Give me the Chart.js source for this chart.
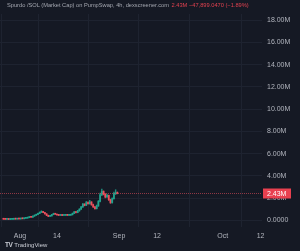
<!DOCTYPE html>
<html>
<head>
<meta charset="utf-8">
<script src="https://cdn.jsdelivr.net/npm/chart.js@4.4.0/dist/chart.umd.min.js"></script>
<style>
    html, body {
        margin: 0;
        padding: 0;
        background: #151924;
        overflow: hidden;
    }
    #wrap {
        position: relative;
        width: 300px;
        height: 251px;
    }
    #title {
        position: absolute;
        left: 7px;
        top: 2px;
        font-family: 'Liberation Sans', sans-serif;
        font-size: 5.7px;
        color: #a3a6af;
        white-space: nowrap;
    }
    #title .chg {
        color: #e0414f;
        margin-left: 1px;
    }
    #logo {
        position: absolute;
        left: 5px;
        top: 241px;
        font-family: 'Liberation Sans', sans-serif;
        font-size: 6px;
        color: #c9ccd4;
        white-space: nowrap;
    }
    #logo b {
        font-size: 6.5px;
        margin-right: 2px;
        letter-spacing: -0.5px;
    }
</style>
</head>
<body>
<div id="wrap">
    <canvas id="mcapChart" width="300" height="251"></canvas>
    <div id="title">Spurdo /SOL (Market Cap) on PumpSwap, 4h, dexscreener.com <span class="chg">2.43M &minus;47,899.0470 (&minus;1.89%)</span></div>
    <div id="logo"><b>TV</b>TradingView</div>
</div>
<script>
// 12h candles, x = days since Aug 1, values in millions
const days = [-2.5, -2, -1.5, -1, -0.5, 0, 0.5, 1, 1.5, 2, 2.5, 3, 3.5, 4, 4.5, 5, 5.5, 6, 6.5, 7,
    7.5, 8, 8.5, 9, 9.5, 10, 10.5, 11, 11.5, 12, 12.5, 13, 13.5, 14, 14.5, 15, 15.5, 16, 16.5, 17,
    17.5, 18, 18.5, 19, 19.5, 20, 20.5, 21, 21.5, 22, 22.5, 23, 23.5, 24, 24.5, 25, 25.5, 26, 26.5, 27,
    27.5, 28, 28.5, 29, 29.5, 30, 30.5];
const opens = [0.11, 0.10, 0.09, 0.10, 0.08, 0.09, 0.10, 0.12, 0.11, 0.13,
    0.12, 0.15, 0.14, 0.18, 0.20, 0.25, 0.30, 0.28, 0.38, 0.45,
    0.52, 0.62, 0.72, 0.80, 0.70, 0.58, 0.45, 0.36, 0.40, 0.52,
    0.60, 0.55, 0.48, 0.45, 0.46, 0.44, 0.45, 0.47, 0.45, 0.46,
    0.50, 0.62, 0.75, 0.70, 0.85, 1.00, 1.20, 1.45, 1.35, 1.60,
    1.50, 1.65, 1.40, 1.20, 1.05, 1.30, 1.70, 2.30, 2.60, 2.35,
    2.10, 2.25, 1.85, 1.60, 1.95, 2.40, 2.48];
const highs = [0.13, 0.11, 0.11, 0.11, 0.10, 0.11, 0.13, 0.13, 0.14, 0.14,
    0.16, 0.16, 0.19, 0.22, 0.27, 0.33, 0.32, 0.40, 0.48, 0.56,
    0.66, 0.76, 0.86, 0.82, 0.72, 0.60, 0.47, 0.44, 0.55, 0.64,
    0.62, 0.56, 0.50, 0.49, 0.48, 0.48, 0.50, 0.49, 0.48, 0.53,
    0.66, 0.80, 0.78, 0.90, 1.05, 1.26, 1.52, 1.50, 1.70, 1.66,
    1.80, 1.68, 1.45, 1.25, 1.38, 1.78, 2.45, 2.80, 2.65, 2.40,
    2.35, 2.28, 1.90, 2.02, 2.55, 2.75, 2.55];
const lows = [0.09, 0.08, 0.08, 0.07, 0.07, 0.08, 0.09, 0.10, 0.10, 0.11,
    0.11, 0.13, 0.13, 0.17, 0.19, 0.23, 0.26, 0.27, 0.36, 0.43,
    0.50, 0.60, 0.70, 0.68, 0.55, 0.42, 0.33, 0.34, 0.38, 0.50,
    0.52, 0.46, 0.43, 0.43, 0.42, 0.43, 0.44, 0.44, 0.44, 0.45,
    0.48, 0.60, 0.66, 0.68, 0.82, 0.97, 1.15, 1.30, 1.32, 1.45,
    1.46, 1.35, 1.15, 1.00, 1.02, 1.25, 1.65, 2.22, 2.28, 2.02,
    2.05, 1.80, 1.52, 1.55, 1.90, 2.32, 2.38];
const closes = [0.10, 0.09, 0.10, 0.08, 0.09, 0.10, 0.12, 0.11, 0.13, 0.12,
    0.15, 0.14, 0.18, 0.20, 0.25, 0.30, 0.28, 0.38, 0.45, 0.52,
    0.62, 0.72, 0.80, 0.70, 0.58, 0.45, 0.36, 0.40, 0.52, 0.60,
    0.55, 0.48, 0.45, 0.46, 0.44, 0.45, 0.47, 0.45, 0.46, 0.50,
    0.62, 0.75, 0.70, 0.85, 1.00, 1.20, 1.45, 1.35, 1.60, 1.50,
    1.65, 1.40, 1.20, 1.05, 1.30, 1.70, 2.30, 2.60, 2.35, 2.10,
    2.25, 1.85, 1.60, 1.95, 2.40, 2.48, 2.43];

const xTickDays = [2.3, 13, 31, 42, 61, 72];
const xTickLabels = ['Aug', '14', 'Sep', '12', 'Oct', '12'];
const yTickValues = [0, 2, 4, 6, 8, 10, 12, 14, 16, 18];
const lastPrice = 2.43;

const UP = 'rgba(34, 171, 148, 0.8)';
const DOWN = 'rgba(247, 82, 95, 0.8)';
const candleColors = closes.map((c, i) => c >= opens[i] ? UP : DOWN);

// current price line + red label on the price scale
const priceLinePlugin = {
    id: 'priceLine',
    afterDraw(chart) {
        const { ctx, chartArea, scales } = chart;
        const y = Math.round(scales.y.getPixelForValue(lastPrice)) + 0.5;
        ctx.save();
        ctx.strokeStyle = 'rgba(242, 80, 95, 0.55)';
        ctx.lineWidth = 1;
        ctx.setLineDash([1, 1]);
        ctx.beginPath();
        ctx.moveTo(chartArea.left, y);
        ctx.lineTo(chartArea.right, y);
        ctx.stroke();
        ctx.setLineDash([]);
        ctx.fillStyle = '#e8404f';
        ctx.fillRect(chartArea.right + 1, y - 5, 28, 10);
        ctx.fillStyle = '#ffffff';
        ctx.font = '7px "Liberation Sans", sans-serif';
        ctx.textBaseline = 'middle';
        ctx.fillText(lastPrice.toFixed(2) + 'M', chartArea.right + 5, y + 0.5);
        ctx.restore();
    }
};

function createChart() {
    const ctx = document.getElementById('mcapChart');
    return new Chart(ctx, {
        type: 'bar',
        data: {
            datasets: [{
                label: 'wick',
                data: days.map((d, i) => ({ x: d, y: [lows[i], highs[i]] })),
                backgroundColor: candleColors,
                barThickness: 0.8,
                grouped: false,
                minBarLength: 1
            }, {
                label: 'body',
                data: days.map((d, i) => ({ x: d, y: [opens[i], closes[i]] })),
                backgroundColor: candleColors,
                barThickness: 1.2,
                grouped: false,
                minBarLength: 1
            }]
        },
        options: {
            responsive: false,
            animation: false,
            layout: {
                padding: { top: 14, left: 0, right: 0, bottom: 0 }
            },
            plugins: {
                legend: { display: false },
                tooltip: { enabled: false }
            },
            scales: {
                x: {
                    type: 'linear',
                    offset: false,
                    min: -3.5,
                    max: 72.4,
                    afterBuildTicks: (scale) => {
                        scale.ticks = xTickDays.map(v => ({ value: v }));
                    },
                    afterFit: (scale) => { scale.height = 24; },
                    grid: {
                        color: '#1e2330',
                        drawTicks: false
                    },
                    border: { display: false },
                    ticks: {
                        color: '#b2b5be',
                        padding: 5,
                        autoSkip: false,
                        maxRotation: 0,
                        font: { size: 7, family: 'Liberation Sans' },
                        callback: (value) => {
                            const i = xTickDays.indexOf(value);
                            return i >= 0 ? xTickLabels[i] : '';
                        }
                    }
                },
                y: {
                    position: 'right',
                    min: -0.6,
                    max: 18.55,
                    afterBuildTicks: (scale) => {
                        scale.ticks = yTickValues.map(v => ({ value: v }));
                    },
                    afterFit: (scale) => { scale.width = 38; },
                    grid: {
                        color: '#1e2330',
                        drawTicks: false
                    },
                    border: { display: false },
                    ticks: {
                        color: '#b2b5be',
                        padding: 5,
                        font: { size: 7, family: 'Liberation Sans' },
                        callback: (value) => value === 0 ? '0.0000' : value.toFixed(2) + 'M'
                    }
                }
            }
        },
        plugins: [priceLinePlugin]
    });
}

createChart();
</script>
</body>
</html>
